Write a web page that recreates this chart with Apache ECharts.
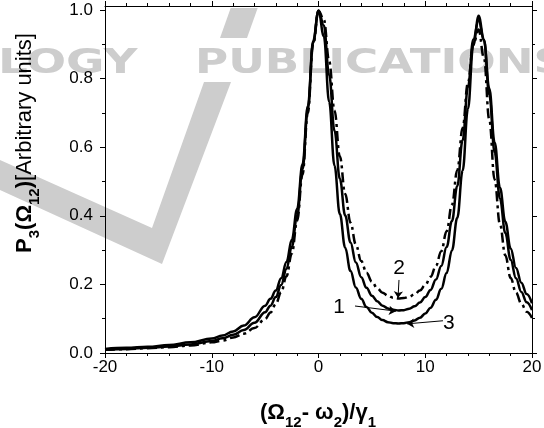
<!DOCTYPE html>
<html><head><meta charset="utf-8">
<script src="https://cdn.jsdelivr.net/npm/echarts@6/dist/echarts.min.js"></script>
<style>html,body{margin:0;padding:0;background:#fff}#c{width:544px;height:428px}</style>
</head><body><div id="c"></div>
<script>
// ---- data ----
const xs = [-20,-18,-16,-14,-12,-10,-9,-8,-7,-6,-5,-4.5,-4,-3.5,-3,-2.5,-2,-1.5,-1,-0.5,0,0.5,1,1.5,2,2.5,3,3.5,4,4.5,5,5.5,6,6.5,7,7.5,8,8.5,9,9.5,10,10.5,11,11.5,12,12.5,13,13.5,14,14.5,15,15.5,16,16.5,17,17.5,18,18.5,19,19.5,20];
// curve "1" (solid)
const curve1 = [0.012,0.015,0.018,0.023,0.031,0.042,0.051,0.063,0.080,0.104,0.138,0.158,0.182,0.218,0.265,0.330,0.420,0.550,0.720,0.910,0.998,0.955,0.810,0.648,0.508,0.401,0.322,0.264,0.221,0.190,0.167,0.151,0.138,0.130,0.126,0.124,0.125,0.129,0.136,0.147,0.163,0.184,0.214,0.254,0.309,0.385,0.487,0.620,0.775,0.914,0.970,0.912,0.771,0.614,0.482,0.383,0.305,0.248,0.205,0.172,0.145];
// curve "2" (dash-dot)
const curve2 = [0.0095,0.011,0.014,0.017,0.022,0.031,0.036,0.045,0.056,0.073,0.099,0.118,0.143,0.177,0.224,0.290,0.385,0.520,0.700,0.900,0.998,0.972,0.851,0.707,0.573,0.464,0.380,0.316,0.268,0.234,0.208,0.189,0.176,0.167,0.161,0.159,0.160,0.164,0.171,0.182,0.198,0.222,0.254,0.297,0.355,0.432,0.533,0.656,0.788,0.899,0.943,0.860,0.680,0.505,0.375,0.285,0.219,0.176,0.144,0.120,0.102];
// curve "3" (solid)
const curve3 = [0.010,0.012,0.015,0.019,0.025,0.035,0.043,0.053,0.067,0.088,0.119,0.138,0.163,0.198,0.245,0.310,0.400,0.535,0.710,0.905,0.998,0.923,0.732,0.546,0.405,0.307,0.239,0.191,0.158,0.134,0.117,0.105,0.096,0.090,0.087,0.086,0.087,0.090,0.095,0.103,0.115,0.132,0.155,0.187,0.233,0.299,0.394,0.531,0.712,0.898,0.983,0.913,0.753,0.585,0.450,0.350,0.272,0.218,0.178,0.148,0.125];

const xTicks = [-20,-10,0,10,20];
const yTicks = [0,0.2,0.4,0.6,0.8,1.0];
const yMinorTicks = [0.1,0.3,0.5,0.7,0.9];

const curveLabels = ['1','2','3'];
const labelPos  = [[1.92,0.134],[7.54,0.248],[12.22,0.087]];
const arrowFrom = [[3.42,0.137],[7.54,0.213],[11.66,0.094]];
const arrowTo   = [[7.26,0.122],[7.45,0.160],[8.29,0.085]];

// ---- chart ----
const FONT = 'Liberation Sans, Arial, sans-serif';
const chart = echarts.init(document.getElementById('c'), null, {renderer:'canvas'});
const blackLine = {show:true, onZero:false, lineStyle:{color:'#000', width:1}};
const tickStyle = {color:'#000', width:1};

function xAx(pos, showLabel){
  return {type:'value', position:pos, min:-20, max:20, interval:10,
    axisLine:blackLine,
    axisTick:{show:true, inside:false, length:5, lineStyle:tickStyle},
    minorTick:{show:true, splitNumber:5, length:3, lineStyle:tickStyle},
    axisLabel:{show:showLabel, fontSize:17, color:'#000', fontFamily:FONT, margin:6, customValues:xTicks,
      formatter:v=>String(v)},
    splitLine:{show:false}, minorSplitLine:{show:false}};
}
function yAx(pos, showLabel, ticks, len, line){
  return {type:'value', position:pos, min:0, max:1.0117,
    axisLine: line ? blackLine : {show:false, onZero:false},
    axisTick:{show:true, inside:false, length:len, lineStyle:tickStyle, customValues:ticks},
    axisLabel:{show:showLabel, fontSize:17, color:'#000', fontFamily:FONT, margin:12, customValues:ticks,
      formatter:v=>v.toFixed(1)},
    splitLine:{show:false}};
}

const subS = {fontSize:15, fontWeight:'bold', fontFamily:FONT, fill:'#000', padding:[20,0,0,0]};
const boldS = {fontSize:22, fontWeight:'bold', fontFamily:FONT, fill:'#000'};
const normS = {fontSize:22, fontWeight:'normal', fontFamily:FONT, fill:'#000'};

const wmColor = '#cdcdcd';

const option = {
  animation:false,
  backgroundColor:'#fff',
  grid:{left:105, right:12, top:6, bottom:75, containLabel:false, outerBoundsMode:'none'},
  xAxis:[xAx('bottom', true), xAx('top', false)],
  yAxis:[yAx('left', true, yTicks, 5, true), yAx('right', false, yTicks, 5, true),
         yAx('left', false, yMinorTicks, 3, false), yAx('right', false, yMinorTicks, 3, false)],
  graphic:[
    {type:'polygon', z:-10, silent:true, shape:{points:[[230.7,8],[257.7,8],[247,38],[220,38]]}, style:{fill:wmColor}},
    {type:'polygon', z:-10, silent:true, shape:{points:[[204,82],[231,82],[162,264],[0,190],[0,160],[152,228]]}, style:{fill:wmColor}},
    {type:'text', z:-10, silent:true, x:-2, y:64, scaleX:1.38, style:{text:'LOGY', fontSize:34, fontWeight:'bold', fontFamily:'DejaVu Sans', fill:wmColor, align:'left', verticalAlign:'middle'}},
    {type:'text', z:-10, silent:true, x:195, y:64, scaleX:1.33, style:{text:'PUBLICATIONS', fontSize:34, fontWeight:'bold', fontFamily:'DejaVu Sans', fill:wmColor, align:'left', verticalAlign:'middle'}},
    {type:'text', x:318, y:413, style:{text:'{b|(Ω}{s|12}{b|- ω}{s|2}{b|)/γ}{s|1}', rich:{b:boldS, s:subS}, align:'center', verticalAlign:'middle'}},
    {type:'text', x:25, y:143, rotation:Math.PI/2, style:{text:'{b|P}{s|3}{b|(Ω}{s|12}{b|)}{n|[Arbitrary units]}', rich:{b:boldS, s:subS, n:normS}, align:'center', verticalAlign:'middle'}}
  ],
  series:[
    {type:'line', name:'1', data:xs.map((x,i)=>[x,curve1[i]]), showSymbol:false, smooth:0.4, smoothMonotone:'x', lineStyle:{color:'#000', width:2.5}, z:3},
    {type:'line', name:'2', data:xs.map((x,i)=>[x,curve2[i]]), showSymbol:false, smooth:0.4, smoothMonotone:'x', lineStyle:{color:'#000', width:2.5, type:[10,4,3,4], cap:'butt'}, z:3},
    {type:'line', name:'3', data:xs.map((x,i)=>[x,curve3[i]]), showSymbol:false, smooth:0.4, smoothMonotone:'x', lineStyle:{color:'#000', width:2.5}, z:3},
    {type:'lines', coordinateSystem:'cartesian2d', z:4, symbol:['none','arrow'], symbolSize:7,
      lineStyle:{color:'#000', width:1, opacity:1},
      data: arrowFrom.map((f,i)=>({coords:[f, arrowTo[i]]}))},
    {type:'scatter', z:5, symbolSize:0.1, itemStyle:{color:'#000', opacity:1},
      label:{show:true, position:'inside', formatter:'{b}', fontSize:21, color:'#000', fontFamily:FONT, opacity:1},
      data: labelPos.map((p,i)=>({name:curveLabels[i], value:p}))}
  ]
};
chart.setOption(option);
</script>
</body></html>
